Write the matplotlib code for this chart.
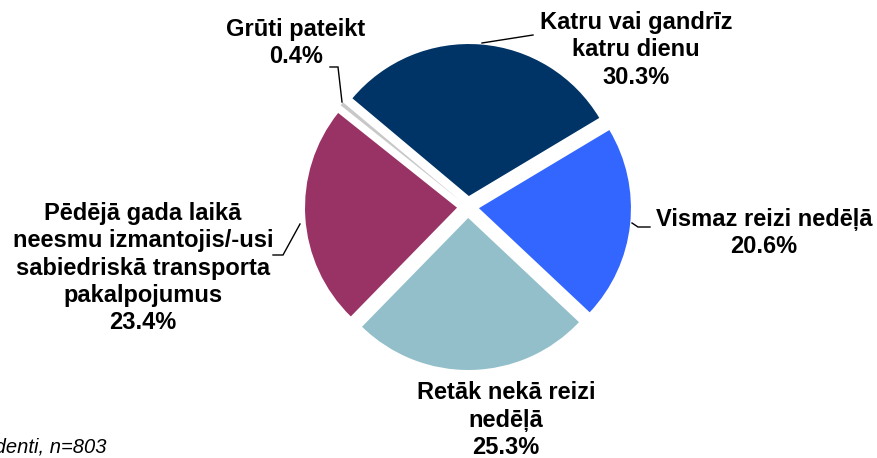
import matplotlib
matplotlib.use("Agg")
import matplotlib.pyplot as plt

# Survey answers: how often public transport is used
categories = [
    "Katru vai gandrīz\nkatru dienu",
    "Vismaz reizi nedēļā",
    "Retāk nekā reizi\nnedēļā",
    "Pēdējā gada laikā\nneesmu izmantojis/-usi\nsabiedriskā transporta\npakalpojumus",
    "Grūti pateikt",
]
values = [30.3, 20.6, 25.3, 23.4, 0.4]
colors = ["#003366", "#3366FF", "#93BFCA", "#993366", "#C8C8C8"]
footnote = "Visi respondenti, n=803"

W, H = 878, 458
fig = plt.figure(figsize=(W / 100, H / 100), dpi=100)
ax = fig.add_axes([0, 0, 1, 1])

cx, cy, r = 468, H - 207, 152
ax.pie(values, colors=colors, startangle=140, counterclock=False,
       explode=[11] * len(values), center=(cx, cy), radius=r,
       wedgeprops=dict(linewidth=0), frame=True)
ax.set_xlim(0, W)
ax.set_ylim(0, H)
ax.set_aspect("equal")
ax.axis("off")

font = dict(family=["Liberation Sans", "DejaVu Sans"], fontweight="bold",
            fontsize=17, ha="center", va="center", linespacing=1.24)

# label text positions (x, y from top)
label_pos = [(636, 50), (764, 233), (506, 420), (143, 268), (296, 43)]
for cat, val, (lx, ly) in zip(categories, values, label_pos):
    ax.text(lx, H - ly, f"{cat}\n{val:.1f}%", **font)

# leader lines
leaders = [
    [(482, 43), (533, 35)],
    [(632, 223), (638, 227), (650, 227)],
    [(300, 224), (283, 255), (273, 255)],
    [(330, 67), (338, 67), (342, 102)],
]
for pts in leaders:
    xs = [p[0] for p in pts]
    ys = [H - p[1] for p in pts]
    ax.plot(xs, ys, color="black", lw=1.0, solid_joinstyle="miter")

ax.text(107, H - 453, footnote, family=["Liberation Sans", "DejaVu Sans"],
        style="italic", fontsize=14.5, ha="right", va="baseline")

fig.savefig("out.png", dpi=100)
